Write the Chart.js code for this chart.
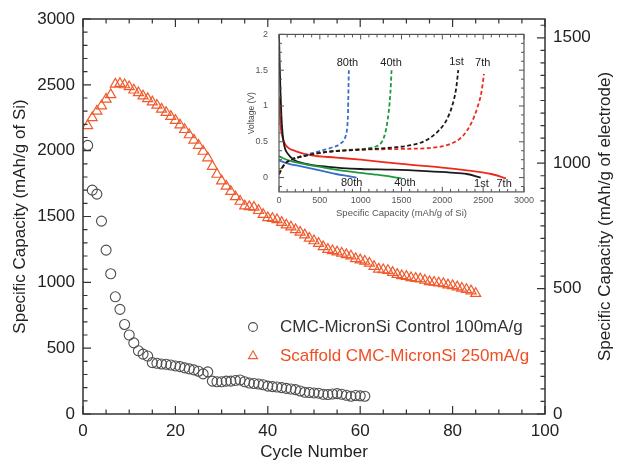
<!DOCTYPE html>
<html>
<head>
<meta charset="utf-8">
<script src="https://cdn.jsdelivr.net/npm/chart.js@4/dist/chart.umd.min.js"></script>
<style>
  html, body { margin: 0; padding: 0; background: #fff; }
  #wrap { position: relative; width: 617px; height: 461px; }
  #main { position: absolute; left: 0; top: 0; }
  #inset { position: absolute; left: 230px; top: 18px; }
</style>
</head>
<body>
<div id="wrap">
  <canvas id="main" width="617" height="461"></canvas>
  <canvas id="inset" width="307" height="207"></canvas>
</div>
<script>
const FONT = 'Liberation Sans, Arial, Helvetica, sans-serif'

// main plot: capacity per cycle (cycle number = position in list, starting at 1)
const controlCapacity = [
  2040, 1700, 1670, 1465, 1245, 1065, 890, 795, 680, 600,
  540, 480, 455, 440, 390, 385, 380, 378, 372, 365,
  360, 350, 343, 335, 325, 305, 320, 250, 245, 245,
  250, 250, 255, 258, 245, 235, 232, 228, 222, 212,
  208, 205, 200, 195, 190, 185, 175, 165, 163, 160,
  158, 150, 148, 152, 155, 150, 142, 135, 140, 138, 135
]
const scaffoldCapacity = [
  2190, 2250, 2300, 2340, 2390, 2425, 2505, 2510, 2500, 2485,
  2460, 2440, 2415, 2395, 2370, 2345, 2315, 2290, 2260, 2230,
  2195, 2160, 2120, 2080, 2040, 1995, 1945, 1880, 1820, 1770,
  1730, 1690, 1650, 1615, 1580, 1575, 1570, 1545, 1515, 1490,
  1485, 1475, 1455, 1435, 1420, 1400, 1380, 1360, 1335, 1315,
  1295, 1270, 1250, 1240, 1230, 1220, 1210, 1200, 1180, 1170,
  1160, 1145, 1120, 1100, 1095, 1090, 1075, 1060, 1050, 1045,
  1035, 1030, 1025, 1015, 1005, 1000, 995, 990, 980, 975,
  965, 955, 945, 935, 915
]
const seriesNames = ['CMC-MicronSi Control 100mA/g', 'Scaffold CMC-MicronSi 250mA/g']
const cycleTicks = [0, 20, 40, 60, 80, 100]
const capTicks = [0, 500, 1000, 1500, 2000, 2500, 3000]
const electrodeTicks = [0, 500, 1000, 1500]

// inset: voltage profiles (capacity mAh/g of Si, voltage V)
const dis1Cap = [0, 8, 18, 30, 45, 70, 110, 180, 300, 600, 1000, 1400, 1800, 2100, 2300, 2470]
const dis1Volt = [2.0, 1.6, 1.2, 0.85, 0.6, 0.42, 0.33, 0.25, 0.2, 0.15, 0.12, 0.11, 0.09, 0.07, 0.05, 0.0]
const dis7Cap = [0, 10, 20, 35, 60, 100, 200, 400, 700, 1000, 1500, 2000, 2300, 2600, 2780]
const dis7Volt = [1.12, 0.9, 0.72, 0.6, 0.5, 0.43, 0.37, 0.31, 0.28, 0.25, 0.19, 0.14, 0.1, 0.05, -0.01]
const dis40Cap = [0, 50, 150, 300, 600, 900, 1200, 1500]
const dis40Volt = [0.3, 0.27, 0.23, 0.19, 0.13, 0.08, 0.04, -0.01]
const dis80Cap = [0, 100, 300, 500, 700, 850, 950]
const dis80Volt = [0.24, 0.2, 0.15, 0.1, 0.05, 0.02, 0.0]
const chg1Cap = [0, 30, 70, 150, 300, 600, 1000, 1400, 1650, 1800, 1950, 2050, 2120, 2170, 2195]
const chg1Volt = [0.05, 0.12, 0.19, 0.25, 0.3, 0.36, 0.39, 0.42, 0.46, 0.52, 0.65, 0.8, 1.0, 1.25, 1.5]
const chg7Cap = [0, 30, 70, 150, 300, 600, 1000, 1500, 1900, 2100, 2250, 2350, 2430, 2480, 2510]
const chg7Volt = [0.05, 0.12, 0.19, 0.25, 0.3, 0.36, 0.39, 0.4, 0.42, 0.47, 0.58, 0.75, 0.98, 1.2, 1.45]
const chg40Cap = [0, 30, 70, 150, 300, 600, 900, 1100, 1200, 1260, 1300, 1330, 1355, 1370, 1378]
const chg40Volt = [0.05, 0.12, 0.19, 0.25, 0.3, 0.36, 0.39, 0.41, 0.44, 0.5, 0.62, 0.8, 1.05, 1.3, 1.5]
const chg80Cap = [0, 30, 70, 150, 300, 500, 650, 760, 810, 835, 845, 850, 855]
const chg80Volt = [0.05, 0.12, 0.19, 0.25, 0.31, 0.37, 0.42, 0.48, 0.56, 0.7, 0.9, 1.2, 1.5]
const insetCapTicks = [0, 500, 1000, 1500, 2000, 2500, 3000]
const insetVoltTicks = [0, 0.5, 1, 1.5, 2]
const cycleNotes = ['80th', '40th', '1st', '7th', '80th', '40th', '1st', '7th']
const noteCap = [837, 1372, 2174, 2495, 890, 1542, 2479, 2757]
const noteVolt = [1.6, 1.6, 1.62, 1.6, -0.075, -0.075, -0.085, -0.085]

const pts = (xs, ys) => xs.map((x, i) => ({ x: x, y: ys[i] }))
const byCycle = (vals) => vals.map((v, i) => ({ x: i + 1, y: v }))

// frame round the plot area with inward tick marks
const boxTicks = {
  id: 'boxTicks',
  afterDatasetsDraw(chart, args, o) {
    const { ctx, chartArea: a, scales } = chart
    ctx.save()
    ctx.strokeStyle = o.color
    ctx.lineWidth = o.tickWidth
    ctx.beginPath()
    for (const t of o.axes) {
      const s = scales[t.scale]
      for (let k = Math.ceil(s.min / t.minor - 1e-9); k * t.minor <= s.max + 1e-9; k++) {
        const v = k * t.minor
        const isMajor = Math.abs(v / t.major - Math.round(v / t.major)) < 1e-6
        const len = isMajor ? o.majorLen : o.minorLen
        const p = s.getPixelForValue(v)
        for (const side of t.sides) {
          if (side === 'bottom') { ctx.moveTo(p, a.bottom); ctx.lineTo(p, a.bottom - len) }
          if (side === 'top') { ctx.moveTo(p, a.top); ctx.lineTo(p, a.top + len) }
          if (side === 'left') { ctx.moveTo(a.left, p); ctx.lineTo(a.left + len, p) }
          if (side === 'right') { ctx.moveTo(a.right, p); ctx.lineTo(a.right - len, p) }
        }
      }
    }
    ctx.stroke()
    ctx.lineWidth = o.width
    ctx.strokeRect(a.left, a.top, a.right - a.left, a.bottom - a.top)
    ctx.restore()
  }
}

// right axis title reads bottom-to-top, like the left one
const rightTitle = {
  id: 'rightTitle',
  afterDraw(chart, args, o) {
    const s = chart.scales.y2
    const t = chart.options.scales.y2.title
    const ctx = chart.ctx
    ctx.save()
    ctx.translate(o.x, (s.top + s.bottom) / 2)
    ctx.rotate(-Math.PI / 2)
    ctx.font = t.font.size + 'px ' + FONT
    ctx.fillStyle = t.color
    ctx.textAlign = 'center'
    ctx.textBaseline = 'middle'
    ctx.fillText(t.text, 0, 0)
    ctx.restore()
  }
}

// legend sitting inside the plot area
const innerLegend = {
  id: 'innerLegend',
  afterDraw(chart, args, o) {
    const ctx = chart.ctx
    ctx.save()
    ctx.font = o.size + 'px ' + FONT
    ctx.textBaseline = 'middle'
    chart.data.datasets.forEach((ds, i) => {
      const y = o.y + i * o.gap
      const r = o.radius
      ctx.strokeStyle = ds.borderColor
      ctx.lineWidth = 1.1
      ctx.beginPath()
      if (ds.pointStyle === 'triangle') {
        ctx.moveTo(o.x, y - r)
        ctx.lineTo(o.x + r * 0.87, y + r * 0.5)
        ctx.lineTo(o.x - r * 0.87, y + r * 0.5)
        ctx.closePath()
      } else {
        ctx.arc(o.x, y, r * 0.85, 0, Math.PI * 2)
      }
      ctx.stroke()
      ctx.fillStyle = o.textColors[i]
      ctx.fillText(ds.label, o.textX, y)
    })
    ctx.restore()
  }
}

// labels on the inset curves, placed in data units
const curveNotes = {
  id: 'curveNotes',
  afterDatasetsDraw(chart, args, o) {
    const { ctx, scales } = chart
    ctx.save()
    ctx.font = o.size + 'px ' + FONT
    ctx.fillStyle = o.color
    ctx.textAlign = 'center'
    ctx.textBaseline = 'middle'
    cycleNotes.forEach((txt, i) => {
      ctx.fillText(txt, scales.x.getPixelForValue(noteCap[i]), scales.y.getPixelForValue(noteVolt[i]))
    })
    ctx.restore()
  }
}

const mainChart = new Chart(document.getElementById('main'), {
  type: 'scatter',
  data: {
    datasets: [
      {
        label: seriesNames[0],
        data: byCycle(controlCapacity),
        pointStyle: 'circle',
        pointRadius: 5,
        borderColor: '#4d4d4d',
        backgroundColor: 'rgba(0,0,0,0)',
        borderWidth: 1.1
      },
      {
        label: seriesNames[1],
        data: byCycle(scaffoldCapacity),
        pointStyle: 'triangle',
        pointRadius: 5.8,
        borderColor: '#f05a2c',
        backgroundColor: 'rgba(0,0,0,0)',
        borderWidth: 1.2
      }
    ]
  },
  options: {
    responsive: false,
    animation: false,
    devicePixelRatio: 1,
    layout: { autoPadding: false, padding: { top: 19, left: 0, right: 0, bottom: 0 } },
    plugins: {
      legend: { display: false },
      tooltip: { enabled: false },
      boxTicks: {
        color: '#333', width: 1.5, tickWidth: 1.2, majorLen: 8, minorLen: 4.5,
        axes: [
          { scale: 'x', major: 20, minor: 5, sides: ['bottom', 'top'] },
          { scale: 'y', major: 500, minor: 100, sides: ['left'] },
          { scale: 'y2', major: 500, minor: 50, sides: ['right'] }
        ]
      },
      rightTitle: { x: 605 },
      innerLegend: {
        x: 253, y: 327, gap: 29, radius: 5.2, textX: 280, size: 17,
        textColors: ['#333333', '#f04e23']
      }
    },
    scales: {
      x: {
        type: 'linear', position: 'bottom', min: 0, max: 100,
        grid: { display: false, drawTicks: false }, border: { display: false },
        afterBuildTicks: (s) => { s.ticks = cycleTicks.map(v => ({ value: v })) },
        ticks: { padding: 7, color: '#222', font: { family: FONT, size: 17 }, maxRotation: 0, callback: v => String(v) },
        title: { display: true, text: 'Cycle Number', color: '#222', font: { family: FONT, size: 17 }, padding: { top: 0, bottom: -2 } },
        afterFit: (s) => { s.height = 47 }
      },
      y: {
        type: 'linear', position: 'left', min: 0, max: 3000,
        grid: { display: false, drawTicks: false }, border: { display: false },
        afterBuildTicks: (s) => { s.ticks = capTicks.map(v => ({ value: v })) },
        ticks: { padding: 8, color: '#222', font: { family: FONT, size: 17 }, callback: v => String(v) },
        title: { display: true, text: 'Specific Capacity (mAh/g of Si)', color: '#222', font: { family: FONT, size: 17 }, padding: { top: 10, bottom: 0 } },
        afterFit: (s) => { s.width = 83 }
      },
      y2: {
        type: 'linear', position: 'right', min: 0, max: 1575,
        grid: { display: false, drawTicks: false }, border: { display: false },
        afterBuildTicks: (s) => { s.ticks = electrodeTicks.map(v => ({ value: v })) },
        ticks: { padding: 8, color: '#222', font: { family: FONT, size: 17 }, callback: v => String(v) },
        title: { display: false, text: 'Specific Capacity (mAh/g of electrode)', color: '#222', font: { family: FONT, size: 17 } },
        afterFit: (s) => { s.width = 72 }
      }
    }
  },
  plugins: [boxTicks, innerLegend, rightTitle]
})

const solid = (label, xs, ys, color) => ({
  label: label, data: pts(xs, ys), showLine: true, pointRadius: 0,
  borderColor: color, borderWidth: 1.8, cubicInterpolationMode: 'monotone'
})
const dashed = (label, xs, ys, color) => Object.assign(solid(label, xs, ys, color), { borderDash: [4, 2.5] })

const insetChart = new Chart(document.getElementById('inset'), {
  type: 'scatter',
  data: {
    datasets: [
      dashed('1st charge', chg1Cap, chg1Volt, '#1a1a1a'),
      dashed('7th charge', chg7Cap, chg7Volt, '#ee2a1c'),
      dashed('40th charge', chg40Cap, chg40Volt, '#1e9a3e'),
      dashed('80th charge', chg80Cap, chg80Volt, '#3a6cc8'),
      solid('80th discharge', dis80Cap, dis80Volt, '#3a6cc8'),
      solid('40th discharge', dis40Cap, dis40Volt, '#1e9a3e'),
      solid('1st discharge', dis1Cap, dis1Volt, '#1a1a1a'),
      solid('7th discharge', dis7Cap, dis7Volt, '#ee2a1c')
    ]
  },
  options: {
    responsive: false,
    animation: false,
    devicePixelRatio: 1,
    layout: { autoPadding: false, padding: { top: 13.7, left: 0, right: 10, bottom: 0 } },
    plugins: {
      legend: { display: false },
      tooltip: { enabled: false },
      boxTicks: {
        color: '#555', width: 1.2, tickWidth: 1, majorLen: 5, minorLen: 3,
        axes: [
          { scale: 'x', major: 500, minor: 100, sides: ['bottom', 'top'] },
          { scale: 'y', major: 0.5, minor: 0.125, sides: ['left', 'right'] }
        ]
      },
      curveNotes: { size: 11, color: '#222' }
    },
    scales: {
      x: {
        type: 'linear', min: 0, max: 3000,
        grid: { display: false, drawTicks: false }, border: { display: false },
        afterBuildTicks: (s) => { s.ticks = insetCapTicks.map(v => ({ value: v })) },
        ticks: { padding: 3, color: '#555', font: { family: FONT, size: 9 }, maxRotation: 0, callback: v => String(v) },
        title: { display: true, text: 'Specific Capacity (mAh/g of Si)', color: '#555', font: { family: FONT, size: 9.5 }, padding: { top: 0, bottom: 6 } },
        afterFit: (s) => { s.height = 33.1 }
      },
      y: {
        type: 'linear', min: -0.2, max: 2,
        grid: { display: false, drawTicks: false }, border: { display: false },
        afterBuildTicks: (s) => { s.ticks = insetVoltTicks.map(v => ({ value: v })) },
        ticks: { padding: 11, color: '#555', font: { family: FONT, size: 9 }, callback: v => String(v) },
        title: { display: true, text: 'Voltage (V)', color: '#444', font: { family: FONT, size: 8.5 }, padding: { top: 17, bottom: 0 } },
        afterFit: (s) => { s.width = 49 }
      }
    }
  },
  plugins: [boxTicks, curveNotes]
})
</script>
</body>
</html>
